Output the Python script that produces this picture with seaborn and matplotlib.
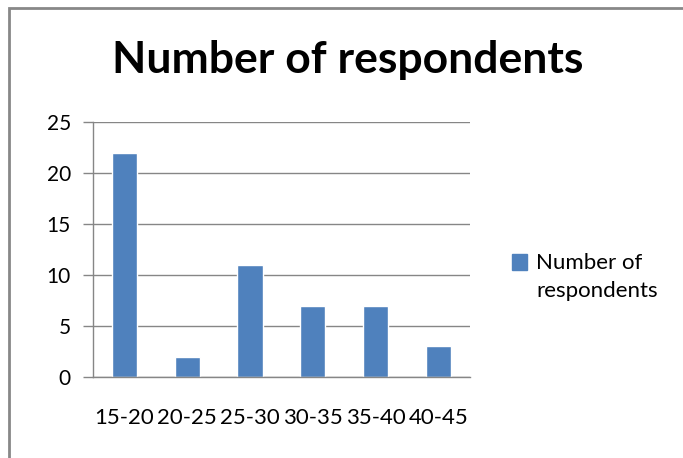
# Import Libraries

import matplotlib
matplotlib.use("Agg")
import matplotlib.pyplot as plt
import matplotlib.patches as mpatches
import seaborn as sns

# Data

age_groups = ["15-20", "20-25", "25-30", "30-35", "35-40", "40-45"]
respondents = [22, 2, 11, 7, 7, 3]
series_name = "Number of respondents"

# Style

sns.set_style("white")
plt.rcParams['font.family'] = ['Lato', 'DejaVu Sans']
plt.rcParams['text.color'] = 'black'
plt.rcParams['xtick.labelcolor'] = 'black'
plt.rcParams['ytick.labelcolor'] = 'black'

fig = plt.figure(figsize=(6.83, 4.58), dpi=100)
ax = fig.add_axes([0.1362, 0.1769, 0.5518, 0.5567])

sns.barplot(x=age_groups, y=respondents, color="#4F81BD", width=0.4,
            saturation=1, ax=ax)

# Axes

ax.set_ylim(0, 25)
ax.set_xlim(-0.5, 5.5)
ax.set_yticks(range(0, 26, 5))
ax.yaxis.grid(True, color="#868686", linewidth=1)
ax.set_axisbelow(True)
for s in ["top", "right"]:
    ax.spines[s].set_visible(False)
for s in ["left", "bottom"]:
    ax.spines[s].set_color("#868686")
    ax.spines[s].set_linewidth(1)

ax.tick_params(axis="y", direction="out", length=7, width=1, color="#868686",
               labelsize=15, pad=9, left=True)
ax.set_xticks([i - 0.5 for i in range(7)], minor=True)
ax.tick_params(axis="x", which="minor", direction="out", length=7, width=1,
               color="#868686")
ax.tick_params(axis="x", which="major", length=0, labelsize=16, pad=22)
ax.set_xlabel("")
ax.set_ylabel("")

# Title

fig.text(0.509, 0.868, series_name, ha="center", va="center",
         fontsize=32, fontweight="bold")

# Legend

handle = mpatches.Patch(color="#4F81BD")
leg = fig.legend([handle], ["Number of\nrespondents"], loc="center left",
                 bbox_to_anchor=(0.7496, 0.395), frameon=False, fontsize=16,
                 handlelength=0.68, handleheight=0.68, handletextpad=0.4,
                 borderaxespad=0, borderpad=0)
for t in leg.get_texts():
    t.set_linespacing(1.45)
# put the square next to the first line, like the original
p = leg.legend_handles[0]
p.set_y(p.get_y() + 11)

# Chart border

fig.patches.append(mpatches.Rectangle((9 / 683, -0.1), 1.2, 1 - 8 / 458 + 0.1,
                                      transform=fig.transFigure, fill=False,
                                      edgecolor="#888888", linewidth=2))

fig.savefig("out.png", dpi=100)
